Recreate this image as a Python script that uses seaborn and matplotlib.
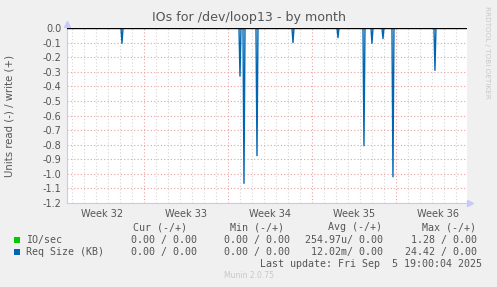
import numpy as np
import pandas as pd
import matplotlib
matplotlib.use("Agg")
import matplotlib.pyplot as plt
from matplotlib.patches import Rectangle
import seaborn as sns

# ---- data (days since start of Week 32) ----
spike_days = [5.19, 15.0, 15.36, 16.44, 19.44, 23.19, 25.36, 25.97, 26.94, 27.78, 31.28]
spike_depth = [-0.105, -0.33, -1.065, -0.875, -0.10, -0.066, -0.807, -0.105, -0.073, -1.02, -0.29]
week_labels = ["Week 32", "Week 33", "Week 34", "Week 35", "Week 36"]
y_ticks = [0.0, -0.1, -0.2, -0.3, -0.4, -0.5, -0.6, -0.7, -0.8, -0.9, -1.0, -1.1, -1.2]
legend_names = ["IO/sec", "Req Size (KB)"]
legend_colors = ["#00CC00", "#0066B3"]
cur_vals = ["0.00 / 0.00", "0.00 / 0.00"]
min_vals = ["0.00 / 0.00", "0.00 / 0.00"]
avg_vals = ["254.97u/ 0.00", "12.02m/ 0.00"]
max_vals = ["1.28 / 0.00", "24.42 / 0.00"]

x0, x1 = 0.583, 33.92
step = 1 / 12
t = np.arange(0.0, 34.5, step)
v = np.zeros_like(t)
for d, val in zip(spike_days, spike_depth):
    v[int(round(d / step))] = val
df = pd.DataFrame({"t": t, "v": v})

sns.set_theme(style="white")
plt.rcParams["font.family"] = ["DejaVu Sans"]

W, H = 497, 287
fig = plt.figure(figsize=(W / 100, H / 100), dpi=100, facecolor="#F0F0F0")
ax = fig.add_axes([67 / W, (H - 203) / H, 400 / W, 175 / H])
ax.set_facecolor("white")

# grid
for d in range(1, 34):
    if d % 7 == 0:
        continue
    ax.axvline(d, color="#d4d4d4", lw=0.8, ls=(0, (1, 2)), zorder=0)
for d in [7, 14, 21, 28]:
    ax.axvline(d, color="#eaa0a0", lw=0.8, ls=(0, (1, 2)), zorder=0)
for y in y_ticks[1:-1]:
    ax.axhline(y, color="#eaa0a0", lw=0.8, ls=(0, (1, 2)), zorder=0)

sns.lineplot(data=df, x="t", y="v", ax=ax, color="#0066B3", lw=1.0, zorder=3)
ax.axhline(0, color="black", lw=1.0, zorder=4)

ax.set_xlim(x0, x1)
ax.set_ylim(-1.2, 0)
ax.set_xticks([3.5, 10.5, 17.5, 24.5, 31.5])
ax.set_xticklabels(week_labels)
ax.set_yticks(y_ticks)
ax.set_yticklabels([f"{y:.1f}" for y in y_ticks])
ax.tick_params(axis="both", labelsize=7, colors="#555555", length=0, pad=4)
ax.set_xlabel("")
ax.set_ylabel("")
for s in ["top", "right"]:
    ax.spines[s].set_visible(False)
for s in ["left", "bottom"]:
    ax.spines[s].set_color("#c8c8ff")
    ax.spines[s].set_linewidth(0.8)
ax.plot([x0], [0.03], marker="^", color="#c8c8ff", ms=5, clip_on=False, transform=ax.transData)
ax.plot([x1 + 0.25], [-1.2], marker=">", color="#c8c8ff", ms=5, clip_on=False)

# texts
fig.text(249 / W, 1 - 18 / H, "IOs for /dev/loop13 - by month", ha="center", va="center",
         fontsize=9.1, color="#555555")
fig.text(10 / W, 1 - 116 / H, "Units read (-) / write (+)", rotation=90, ha="center", va="center",
         fontsize=7.3, color="#555555")
fig.text(487 / W, 1 - 52 / H, "RRDTOOL / TOBI OETIKER", rotation=270, ha="center", va="center",
         fontsize=5.2, color="#c8c8c8")

mono = dict(family="DejaVu Sans Mono", fontsize=7.2, color="#555555", va="center")
fy = lambda y: 1 - y / H
hy = 227
fig.text(187 / W, fy(hy), "Cur (-/+)", ha="right", **mono)
fig.text(283.5 / W, fy(hy), "Min (-/+)", ha="right", **mono)
fig.text(382 / W, fy(hy), "Avg (-/+)", ha="right", **mono)
fig.text(476.5 / W, fy(hy), "Max (-/+)", ha="right", **mono)
rows_y = [239.5, 252]
for i, yy in enumerate(rows_y):
    fig.patches.append(Rectangle((14 / W, fy(yy + 3)), 6 / W, 6 / H, transform=fig.transFigure,
                                 facecolor=legend_colors[i], edgecolor="none"))
    fig.text(26 / W, fy(yy), legend_names[i], ha="left", **mono)
    fig.text(197 / W, fy(yy), cur_vals[i], ha="right", **mono)
    fig.text(290 / W, fy(yy), min_vals[i], ha="right", **mono)
    fig.text(383 / W, fy(yy), avg_vals[i], ha="right", **mono)
    fig.text(477 / W, fy(yy), max_vals[i], ha="right", **mono)
fig.text(482.5 / W, fy(264), "Last update: Fri Sep  5 19:00:04 2025", ha="right", **mono)
fig.text(249 / W, fy(276), "Munin 2.0.75", ha="center", va="center", fontsize=5.5, color="#c8c8c8")

fig.savefig("out.png", dpi=100, facecolor=fig.get_facecolor())
